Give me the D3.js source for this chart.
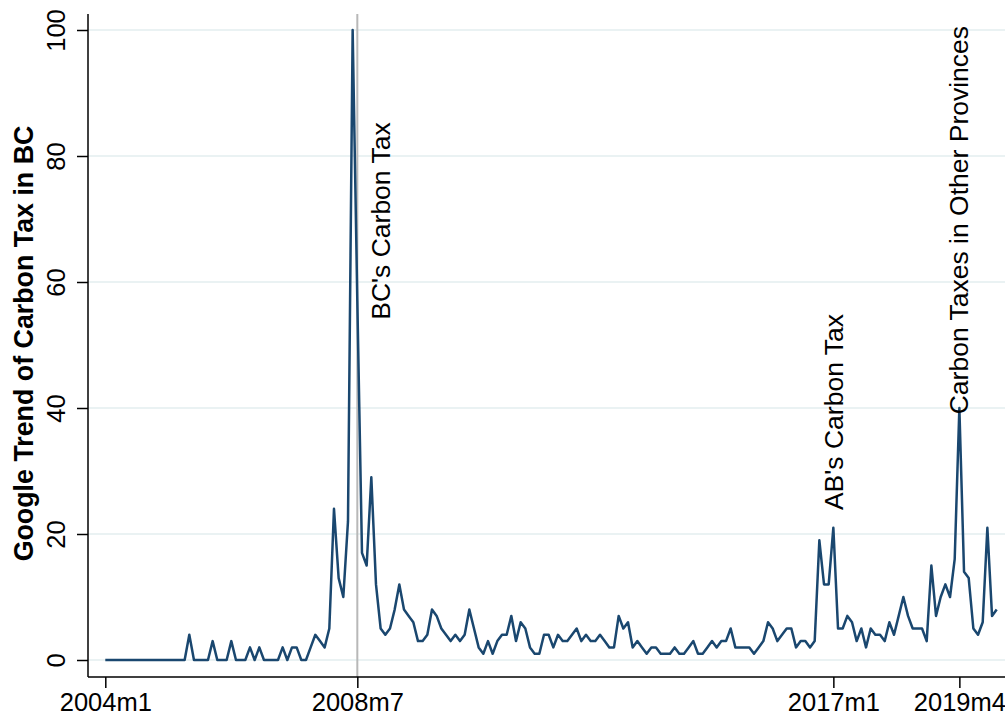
<!DOCTYPE html>
<html>
<head>
<meta charset="utf-8">
<script src="https://cdn.jsdelivr.net/npm/d3@7"></script>
<style>
  body { margin: 0; background: #fff; }
  svg { display: block; font-family: "Liberation Sans", Arial, Helvetica, sans-serif; }
</style>
</head>
<body>
<div id="chart"></div>
<script>
// monthly google trend values, 2004m1 .. 2019m12
const startYear = 2004;
const trendValues = [
  0,0,0,0,0,0,0,0,0,0,0,0,            // 2004
  0,0,0,0,0,0,4,0,0,0,0,3,            // 2005
  0,0,0,3,0,0,0,2,0,2,0,0,            // 2006
  0,0,2,0,2,2,0,0,2,4,3,2,            // 2007
  5,24,13,10,22,100,57,17,15,29,12,5, // 2008
  4,5,8,12,8,7,6,3,3,4,8,7,           // 2009
  5,4,3,4,3,4,8,5,2,1,3,1,            // 2010
  3,4,4,7,3,6,5,2,1,1,4,4,            // 2011
  2,4,3,3,4,5,3,4,3,3,4,3,            // 2012
  2,2,7,5,6,2,3,2,1,2,2,1,            // 2013
  1,1,2,1,1,2,3,1,1,2,3,2,            // 2014
  3,3,5,2,2,2,2,1,2,3,6,5,            // 2015
  3,4,5,5,2,3,3,2,3,19,12,12,         // 2016
  21,5,5,7,6,3,5,2,5,4,4,3,           // 2017
  6,4,7,10,7,5,5,5,3,15,7,10,         // 2018
  12,10,16,40,14,13,5,4,6,21,7,8      // 2019
];
const xTickLabels = ['2004m1', '2008m7', '2017m1', '2019m4'];
const yTickValues = [0, 20, 40, 60, 80, 100];
const eventMonth = '2008m7';
const annotations = [
  {label: "BC's Carbon Tax", month: 59.1, value: 54},
  {label: "AB's Carbon Tax", month: 156.1, value: 23.8},
  {label: 'Carbon Taxes in Other Provinces', month: 182.9, value: 39}
];
const yTitle = 'Google Trend of Carbon Tax in BC';

// month label -> index from 2004m1
const monthIndex = (s) => {
  const [y, m] = s.split('m').map(Number);
  return (y - startYear) * 12 + (m - 1);
};

const width = 1005; const height = 717;
const plotLeft = 88, plotRight = 1005, plotTop = 14, plotBottom = 677;

const svg = d3.select('#chart')
  .append('svg')
    .attr('width', width)
    .attr('height', height);

const x = d3.scaleLinear()
  .domain([0, trendValues.length - 1])
  .range([105.3, 996.7]);
const y = d3.scaleLinear()
  .domain([0, 100])
  .range([660, 30]);

// gridlines
svg.append('g')
  .selectAll('line')
  .data(yTickValues)
  .join('line')
    .attr('x1', plotLeft)
    .attr('x2', plotRight)
    .attr('y1', d => y(d))
    .attr('y2', d => y(d))
    .attr('stroke', '#eaf2f3')
    .attr('stroke-width', 1.8);

// event line
svg.append('line')
  .attr('x1', x(monthIndex(eventMonth)))
  .attr('x2', x(monthIndex(eventMonth)))
  .attr('y1', plotTop)
  .attr('y2', plotBottom)
  .attr('stroke', '#b8b8b8')
  .attr('stroke-width', 2);

// the series
const line = d3.line()
  .x((d, i) => x(i))
  .y(d => y(d));
svg.append('path')
  .datum(trendValues)
  .attr('fill', 'none')
  .attr('stroke', '#1a476f')
  .attr('stroke-width', 2.5)
  .attr('stroke-linejoin', 'round')
  .attr('d', line);

// x axis
const xAxis = d3.axisBottom(x)
  .tickValues(xTickLabels.map(monthIndex))
  .tickFormat((d, i) => xTickLabels[i])
  .tickSize(11)
  .tickSizeOuter(0)
  .tickPadding(5);
const xAxisG = svg.append('g')
  .attr('transform', `translate(0, ${plotBottom})`)
  .call(xAxis);
xAxisG.select('.domain')
  .attr('d', `M${plotLeft},0H${plotRight}`)
  .attr('stroke-width', 1.5);
xAxisG.selectAll('.tick line').attr('stroke-width', 1.5);
xAxisG.selectAll('text')
  .attr('font-size', 25.5)
  .attr('fill', '#000');

// y axis
const yAxis = d3.axisLeft(y)
  .tickValues(yTickValues)
  .tickSize(11)
  .tickSizeOuter(0);
const yAxisG = svg.append('g')
  .attr('transform', `translate(${plotLeft}, 0)`)
  .call(yAxis);
yAxisG.select('.domain')
  .attr('d', `M0,${plotTop}V${plotBottom}`)
  .attr('stroke-width', 1.5);
yAxisG.selectAll('.tick line').attr('stroke-width', 1.5);
yAxisG.selectAll('text')
  .attr('font-size', 25.5)
  .attr('fill', '#000')
  .attr('text-anchor', 'middle')
  .attr('x', 0)
  .attr('y', -23)
  .attr('dy', 0)
  .attr('transform', 'rotate(-90)');

// y title
svg.append('text')
  .attr('transform', `translate(33, ${(plotTop + plotBottom) / 2 - 2}) rotate(-90)`)
  .attr('text-anchor', 'middle')
  .attr('font-size', 26.8)
  .attr('font-weight', 'bold')
  .text(yTitle);

// annotations
svg.append('g')
  .selectAll('text')
  .data(annotations)
  .join('text')
    .attr('transform', d => `translate(${x(d.month)}, ${y(d.value)}) rotate(-90)`)
    .attr('dy', '0.35em')
    .attr('font-size', 26.5)
    .text(d => d.label);
</script>
</body>
</html>
